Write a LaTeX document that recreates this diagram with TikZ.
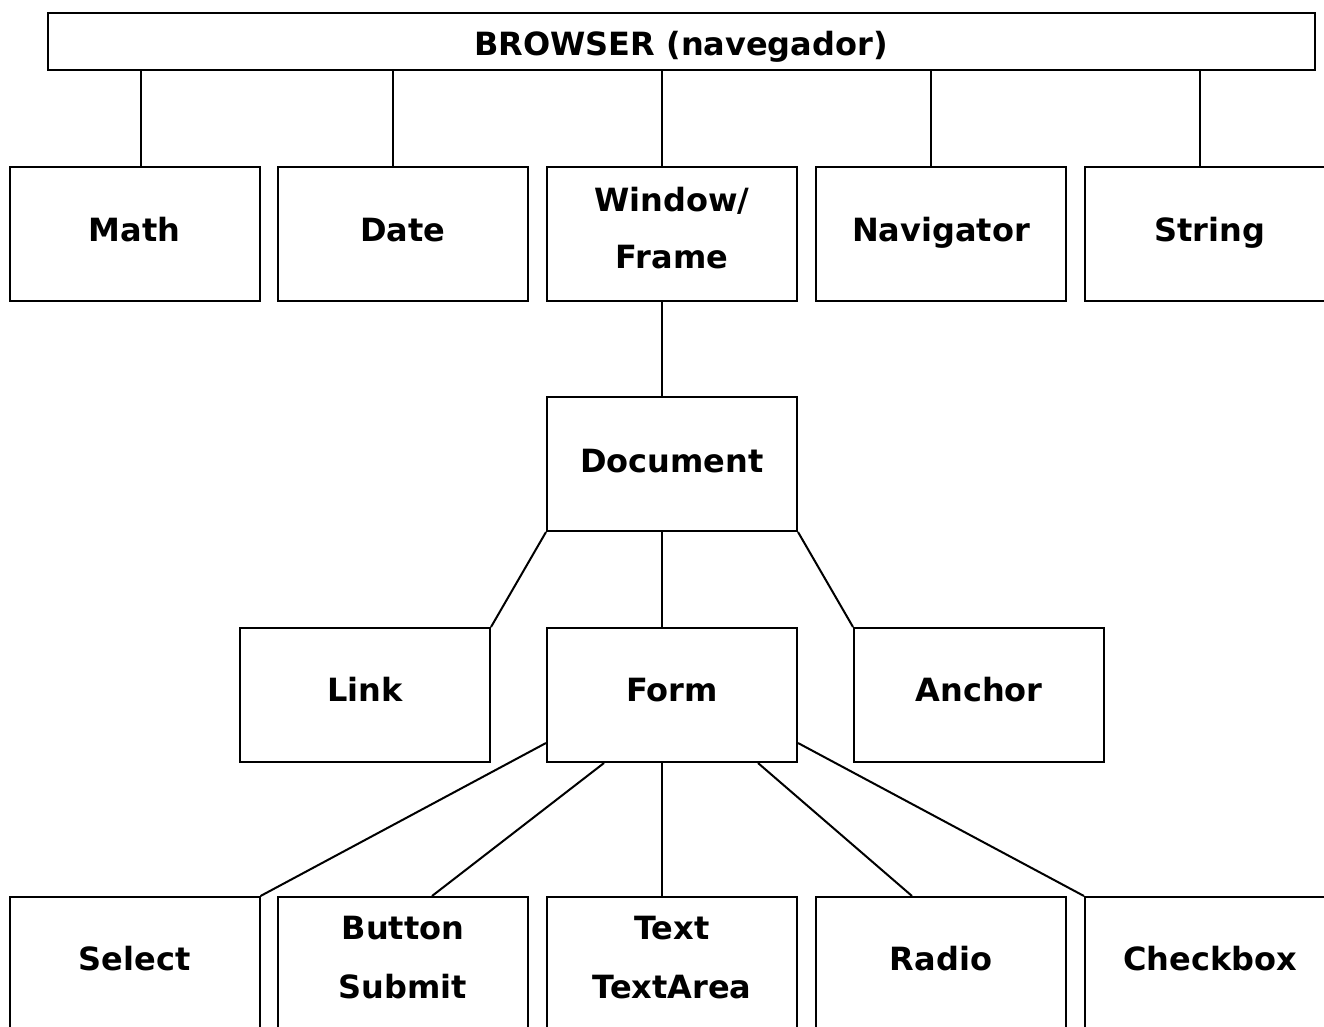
\documentclass[tikz,border=0pt]{standalone}
\usepackage{fontspec}
\setmainfont{DejaVu Sans}
\begin{document}
\begin{tikzpicture}[x=1pt,y=-1pt,
  box/.style={draw=black, line width=2pt, rectangle, minimum width=250pt, minimum height=134pt, inner sep=0pt, align=center, font=\fontsize{32}{57}\selectfont\bfseries},
  lowbox/.style={draw=black, line width=2pt, rectangle, minimum width=250pt, minimum height=160pt, inner sep=0pt},
  lbl/.style={align=center, font=\fontsize{32}{59}\selectfont\bfseries, inner sep=0pt},
  con/.style={draw=black, line width=2pt}]
\useasboundingbox (0,0) rectangle (1324,1026);
\clip (0,0) rectangle (1324,1026);
\fill[white] (0,0) rectangle (1324,1026);
% top
\node[draw=black, line width=2pt, minimum width=1267pt, minimum height=57pt, inner sep=0pt] (browser) at (681.5,41.5) {};
\node[lbl] (browserlbl) at (681,47) {BROWSER (navegador)};
% row 1
\node[box] (math) at (134.5,234) {\raisebox{9pt}{Math}};
\node[box] (date) at (403,234) {\raisebox{9pt}{Date}};
\node[box] (window) at (672,234) {};
\node[lbl, font=\fontsize{32}{57}\selectfont\bfseries] (windowlbl) at (672,228) {Window/\\Frame};
\node[box] (navigator) at (941,234) {\raisebox{9pt}{Navigator}};
\node[box] (string) at (1210,234) {\raisebox{9pt}{String}};
% row 2
\node[box] (document) at (672,464) {\raisebox{7pt}{Document}};
% row 3
\node[box] (link) at (365,695) {\raisebox{11pt}{Link}};
\node[box] (form) at (672,695) {\raisebox{10pt}{Form}};
\node[box] (anchor) at (979,695) {\raisebox{11pt}{Anchor}};
% row 4
\node[lowbox] (select) at (134.5,977) {};
\node[lowbox] (button) at (403,977) {};
\node[lowbox] (text) at (672,977) {};
\node[lowbox] (radio) at (941,977) {};
\node[lowbox] (checkbox) at (1210,977) {};
\node[lbl] (selectlbl) at (134.5,959) {Select};
\node[lbl] (buttonlbl) at (403,958) {Button\\Submit};
\node[lbl] (textlbl) at (672,958) {Text\\TextArea};
\node[lbl] (radiolbl) at (941,959) {Radio};
\node[lbl] (checkboxlbl) at (1210,959) {Checkbox};
% connectors browser -> row 1
\draw[con] ([xshift=6.5pt]math.north) -- ([xshift=6.5pt]math.north |- browser.south);
\draw[con] ([xshift=-10pt]date.north) -- ([xshift=-10pt]date.north |- browser.south);
\draw[con] ([xshift=-10pt]window.north) -- ([xshift=-10pt]window.north |- browser.south);
\draw[con] ([xshift=-10pt]navigator.north) -- ([xshift=-10pt]navigator.north |- browser.south);
\draw[con] ([xshift=-10pt]string.north) -- ([xshift=-10pt]string.north |- browser.south);
% window -> document
\draw[con] ([xshift=-10pt]window.south) -- ([xshift=-10pt]document.north);
% document -> row 3
\draw[con] (document.south west) -- (link.north east);
\draw[con] ([xshift=-10pt]document.south) -- ([xshift=-10pt]form.north);
\draw[con] (document.south east) -- (anchor.north west);
% form -> row 4
\draw[con] ([yshift=20pt]form.south west) -- (select.north east);
\draw[con] ([xshift=58pt]form.south west) -- ([xshift=29pt]button.north);
\draw[con] ([xshift=-10pt]form.south) -- ([xshift=-10pt]text.north);
\draw[con] ([xshift=-40pt]form.south east) -- ([xshift=-29pt]radio.north);
\draw[con] ([yshift=20pt]form.south east) -- (checkbox.north west);
\end{tikzpicture}
\end{document}
